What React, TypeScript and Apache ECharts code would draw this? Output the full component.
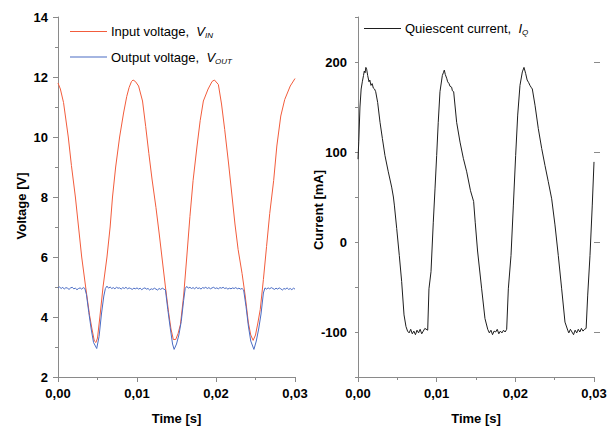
import React, { useEffect, useRef } from "react";
import * as echarts from "echarts";

// ---- Data ----
const inputTime = [0, 0.0003, 0.0007, 0.0013, 0.0017, 0.0022, 0.0026, 0.003, 0.0035, 0.004, 0.0043, 0.0046, 0.0048, 0.005, 0.0053, 0.0057, 0.0062, 0.0066, 0.0069, 0.0073, 0.0078, 0.0083, 0.0087, 0.009, 0.0093, 0.0095, 0.0098, 0.0102, 0.0107, 0.0111, 0.0115, 0.0119, 0.0124, 0.0128, 0.0132, 0.0136, 0.014, 0.0143, 0.0146, 0.0149, 0.0152, 0.0155, 0.0159, 0.0163, 0.0167, 0.0171, 0.0176, 0.018, 0.0184, 0.019, 0.0195, 0.0198, 0.0203, 0.0207, 0.0211, 0.0216, 0.022, 0.0224, 0.0228, 0.0233, 0.0237, 0.0241, 0.0244, 0.0247, 0.025, 0.0253, 0.0256, 0.026, 0.0264, 0.0268, 0.0273, 0.0277, 0.0282, 0.0287, 0.0294, 0.03];
const inputVoltage = [11.8, 11.6, 11.15, 10.0, 9.05, 8.0, 7.0, 6.0, 5.0, 4.05, 3.6, 3.2, 3.15, 3.3, 4.0, 5.0, 6.0, 7.0, 8.0, 9.0, 10.0, 10.8, 11.35, 11.65, 11.85, 11.9, 11.85, 11.7, 11.2, 10.35, 9.45, 8.6, 7.65, 6.8, 5.9, 5.0, 4.15, 3.6, 3.25, 3.25, 3.45, 3.75, 4.7, 6.0, 7.35, 8.55, 9.7, 10.55, 11.2, 11.6, 11.85, 11.9, 11.75, 11.1, 10.25, 9.1, 8.1, 7.1, 6.25, 5.45, 4.7, 3.8, 3.4, 3.22, 3.4, 3.8, 4.25, 5.25, 6.35, 7.45, 8.55, 9.7, 10.7, 11.25, 11.7, 11.95];

const outputTime = [0, 0.0002, 0.0004, 0.0006, 0.0008, 0.001, 0.0012, 0.0014, 0.0016, 0.0018, 0.002, 0.0022, 0.0024, 0.0026, 0.0028, 0.003, 0.0032, 0.0034, 0.0036, 0.0039, 0.0042, 0.0045, 0.0049, 0.0052, 0.0055, 0.0058, 0.006, 0.0062, 0.0064, 0.0066, 0.0068, 0.007, 0.0072, 0.0074, 0.0076, 0.0078, 0.008, 0.0082, 0.0084, 0.0086, 0.0088, 0.009, 0.0092, 0.0094, 0.0096, 0.0098, 0.01, 0.0102, 0.0104, 0.0106, 0.0108, 0.011, 0.0112, 0.0114, 0.0116, 0.0118, 0.012, 0.0122, 0.0124, 0.0126, 0.0128, 0.013, 0.0132, 0.0134, 0.0136, 0.0139, 0.0142, 0.0145, 0.0147, 0.015, 0.0153, 0.0156, 0.0159, 0.0161, 0.0163, 0.0165, 0.0167, 0.0169, 0.0171, 0.0173, 0.0175, 0.0177, 0.0179, 0.0181, 0.0183, 0.0185, 0.0187, 0.0189, 0.0191, 0.0193, 0.0195, 0.0197, 0.0199, 0.0201, 0.0203, 0.0205, 0.0207, 0.0209, 0.0211, 0.0213, 0.0215, 0.0217, 0.0219, 0.0221, 0.0223, 0.0225, 0.0227, 0.0229, 0.0231, 0.0233, 0.0235, 0.0238, 0.0241, 0.0244, 0.0248, 0.0251, 0.0254, 0.0257, 0.026, 0.0262, 0.0264, 0.0266, 0.0268, 0.027, 0.0272, 0.0274, 0.0276, 0.0278, 0.028, 0.0282, 0.0284, 0.0286, 0.0288, 0.029, 0.0292, 0.0294, 0.0296, 0.0298, 0.03];
const outputVoltage = [4.97, 5.0, 4.95, 4.99, 4.93, 4.98, 4.96, 4.92, 4.97, 4.99, 4.94, 4.96, 4.91, 4.95, 4.97, 4.93, 4.98, 4.95, 4.75, 4.15, 3.6, 3.15, 2.95, 3.35, 4.1, 4.7, 4.95, 5.03, 4.96, 5.0, 4.95, 4.98, 4.94, 4.99, 4.96, 4.97, 4.93, 4.98, 4.95, 4.99, 4.94, 4.97, 4.95, 4.92, 4.96, 4.94, 4.97, 4.93, 4.96, 4.91, 4.95, 4.97, 4.93, 4.95, 4.9, 4.94, 4.92, 4.96, 4.93, 4.9, 4.95, 4.92, 4.96, 4.93, 4.9, 4.25, 3.65, 3.1, 2.92, 3.1, 3.4, 3.85, 4.55, 4.95, 5.02, 4.96, 4.99, 4.95, 4.98, 4.94, 4.99, 4.95, 4.97, 4.93, 4.98, 4.96, 4.99, 4.95, 4.98, 4.94, 4.97, 4.99, 4.95, 4.97, 4.94, 4.98, 4.96, 4.99, 4.95, 4.97, 4.93, 4.96, 4.94, 4.97, 4.95, 4.98, 4.94, 4.96, 4.93, 4.95, 4.9, 4.35, 3.7, 3.2, 2.92, 3.2, 3.6, 4.1, 4.8, 4.97, 4.93, 4.97, 4.94, 4.98, 4.95, 4.92, 4.96, 4.93, 4.97, 4.94, 4.9, 4.95, 4.93, 4.97, 4.92, 4.95, 4.91, 4.96, 4.93];

const currentTime = [0, 0.0001, 0.00025, 0.0004, 0.00055, 0.0007, 0.0008, 0.0009, 0.001, 0.0011, 0.00123, 0.0014, 0.0015, 0.00165, 0.0018, 0.00195, 0.0021, 0.00225, 0.0025, 0.0028, 0.0031, 0.00343, 0.00385, 0.00428, 0.0045, 0.00462, 0.00492, 0.00525, 0.00555, 0.00585, 0.0061, 0.0063, 0.0065, 0.0067, 0.0069, 0.0071, 0.0073, 0.0075, 0.0077, 0.0079, 0.0081, 0.0083, 0.0085, 0.00886, 0.00902, 0.00928, 0.00957, 0.00979, 0.01, 0.0102, 0.01042, 0.01072, 0.01085, 0.01097, 0.0111, 0.01127, 0.0114, 0.01157, 0.0117, 0.0119, 0.012, 0.01216, 0.01254, 0.01297, 0.01339, 0.01382, 0.0143, 0.0147, 0.0149, 0.0152, 0.01572, 0.01614, 0.01649, 0.0167, 0.0169, 0.0171, 0.0173, 0.0175, 0.0177, 0.0179, 0.0181, 0.0183, 0.0185, 0.0187, 0.0189, 0.01911, 0.01945, 0.01975, 0.02004, 0.0203, 0.02059, 0.02089, 0.0211, 0.02132, 0.0215, 0.0217, 0.02186, 0.022, 0.02216, 0.0225, 0.02292, 0.02335, 0.02377, 0.02419, 0.02462, 0.02504, 0.02546, 0.02589, 0.02631, 0.02666, 0.0268, 0.027, 0.0272, 0.0274, 0.0276, 0.0278, 0.028, 0.0282, 0.0284, 0.0286, 0.0288, 0.029, 0.0292, 0.02949, 0.02978, 0.03];
const quiescentCurrent = [92, 112, 150, 170, 178, 185, 190, 188, 194, 192, 185, 178, 180, 174, 176, 171, 170, 167, 155, 133, 115, 96, 78, 61, 50, 41, 15, -15, -44, -81, -94, -99, -101, -97, -102, -99, -103, -98, -101, -97, -102, -99, -96, -98, -52, -33, 22, 59, 96, 133, 167, 185, 188, 191, 186, 182, 178, 176, 173, 172, 168, 167, 133, 111, 93, 78, 57, 45, 22, -10, -52, -85, -97, -101, -98, -103, -99, -100, -97, -102, -99, -101, -98, -100, -97, -52, -15, 41, 96, 141, 174, 189, 194, 187, 180, 177, 174, 172, 170, 152, 126, 104, 85, 67, 48, 19, -15, -52, -89, -98, -101, -97, -100, -103, -98, -101, -97, -100, -96, -99, -97, -96, -59, -15, 41, 89];

const xTicks = [0, 0.01, 0.02, 0.03];
const currentLabelValues = [-100, 0, 100, 200];

const FONT = "'Liberation Sans', Arial, sans-serif";
const AXIS_GRAY = "#8a8a8a";
const RED = "#f25c3c";
const BLUE = "#4a6cc4";
const BLACK = "#1e1e1e";

const pairs = (xs: number[], ys: number[]) => xs.map((x, i) => [x, ys[i]]);

const labelStyle = { color: "#000", fontWeight: "bold" as const, fontSize: 13, fontFamily: FONT };
const nameStyle = { color: "#000", fontWeight: "bold" as const, fontSize: 13, fontFamily: FONT };

function makeX(gridIndex: number) {
  return {
    type: "value",
    gridIndex,
    min: xTicks[0],
    max: xTicks[xTicks.length - 1],
    interval: 0.01,
    name: "Time [s]",
    nameLocation: "middle",
    nameGap: 35,
    nameMoveOverlap: false,
    nameTextStyle: nameStyle,
    axisLine: { onZero: false, lineStyle: { color: AXIS_GRAY, width: 1 } },
    axisTick: { length: 5, lineStyle: { color: AXIS_GRAY } },
    minorTick: { show: true, splitNumber: 2, length: 3, lineStyle: { color: AXIS_GRAY } },
    splitLine: { show: false },
    minorSplitLine: { show: false },
    axisLabel: {
      ...labelStyle,
      margin: 10,
      formatter: (v: number) => v.toFixed(2).replace(".", ","),
    },
  };
}

const richLegend = {
  t: { fontSize: 13, fontFamily: FONT, color: "#000", lineHeight: 16 },
  v: { fontSize: 13, fontFamily: FONT, color: "#000", fontStyle: "italic", lineHeight: 16 },
  s: { fontSize: 8, fontFamily: FONT, color: "#000", fontStyle: "italic", lineHeight: 8, verticalAlign: "bottom" },
};

const legendFormatter = (name: string) => {
  if (name === "Input voltage") return "{t|Input voltage,  }{v|V}{s|IN}";
  if (name === "Output voltage") return "{t|Output voltage,  }{v|V}{s|OUT}";
  return "{t|Quiescent current,  }{v|I}{s|Q}";
};

const legendBase = {
  orient: "vertical",
  padding: 0,
  icon: "rect",
  itemWidth: 37,
  itemHeight: 1,
  formatter: legendFormatter,
  textStyle: { rich: richLegend, padding: [0, 0, 0, -1] },
};

export default function App() {
  const ref = useRef<HTMLDivElement>(null);
  useEffect(() => {
    if (!ref.current) return;
    const chart = echarts.init(ref.current, undefined, { renderer: "svg" });
    chart.setOption({
      animation: false,
      backgroundColor: "#fff",
      textStyle: { fontFamily: FONT },
      grid: [
        { left: 58, top: 17, width: 237, height: 360, outerBoundsMode: "none", containLabel: false },
        { left: 358, top: 17, width: 236, height: 360, outerBoundsMode: "none", containLabel: false },
      ],
      legend: [
        {
          ...legendBase,
          data: ["Input voltage", "Output voltage"],
          left: 70,
          top: 25,
          itemGap: 11,
        },
        {
          ...legendBase,
          data: ["Quiescent current"],
          left: 364,
          top: 22,
        },
      ],
      xAxis: [makeX(0), makeX(1)],
      yAxis: [
        {
          type: "value",
          gridIndex: 0,
          min: 2,
          max: 14,
          interval: 2,
          name: "Voltage [V]",
          nameLocation: "middle",
          nameGap: 30,
          nameMoveOverlap: false,
          nameTextStyle: { ...nameStyle, padding: [0, 18, 0, 0] },
          axisLine: { show: true, onZero: false, lineStyle: { color: AXIS_GRAY } },
          axisTick: { show: true, length: 5, lineStyle: { color: AXIS_GRAY } },
          minorTick: { show: true, splitNumber: 2, length: 3, lineStyle: { color: AXIS_GRAY } },
          splitLine: { show: false },
          minorSplitLine: { show: false },
          axisLabel: { ...labelStyle, margin: 10 },
        },
        {
          type: "value",
          gridIndex: 1,
          min: -150,
          max: 250,
          interval: 50,
          name: "Current [mA]",
          nameLocation: "middle",
          nameGap: 33,
          nameMoveOverlap: false,
          nameTextStyle: { ...nameStyle, padding: [0, 26, 0, 0] },
          axisLine: { show: true, onZero: false, lineStyle: { color: AXIS_GRAY } },
          axisTick: { show: true, length: 3, lineStyle: { color: AXIS_GRAY } },
          splitLine: { show: false },
          axisLabel: {
            ...labelStyle,
            margin: 11,
            formatter: (v: number) => (currentLabelValues.includes(v) ? String(v) : ""),
          },
        },
        {
          type: "value",
          gridIndex: 1,
          min: -150,
          max: 250,
          interval: 50,
          axisLine: { show: false, onZero: false },
          axisTick: { show: true, length: 6, customValues: currentLabelValues, lineStyle: { color: AXIS_GRAY } },
          axisLabel: { show: false },
          splitLine: { show: false },
        },
      ],
      series: [
        {
          name: "Input voltage",
          type: "line",
          xAxisIndex: 0,
          yAxisIndex: 0,
          data: pairs(inputTime, inputVoltage),
          symbol: "none",
          color: RED,
          lineStyle: { width: 1, color: RED },
        },
        {
          name: "Output voltage",
          type: "line",
          xAxisIndex: 0,
          yAxisIndex: 0,
          data: pairs(outputTime, outputVoltage),
          symbol: "none",
          color: BLUE,
          lineStyle: { width: 1, color: BLUE },
        },
        {
          name: "Quiescent current",
          type: "line",
          xAxisIndex: 1,
          yAxisIndex: 1,
          data: pairs(currentTime, quiescentCurrent),
          symbol: "none",
          color: BLACK,
          lineStyle: { width: 1, color: BLACK },
        },
      ],
    });
    return () => chart.dispose();
  }, []);
  return (
    <div
      ref={ref}
      style={{ position: "fixed", left: 0, top: 0, width: 614, height: 428, background: "#fff" }}
    />
  );
}
